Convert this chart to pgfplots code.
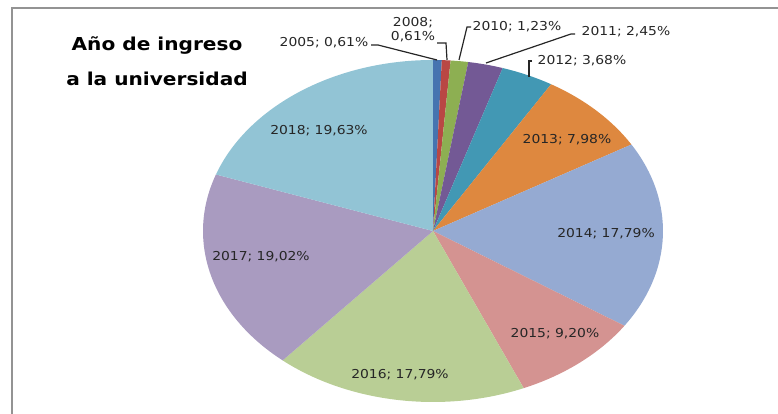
\documentclass[border=0pt]{standalone}
\usepackage{fontspec}
\setmainfont[FakeStretch=1.13]{DejaVu Sans}
\usepackage{pgfplots}
\usepackage{pgfplotstable}
\pgfplotsset{compat=1.18}

\definecolor{c0}{HTML}{4674B0}
\definecolor{c1}{HTML}{B94744}
\definecolor{c2}{HTML}{8DAF52}
\definecolor{c3}{HTML}{735995}
\definecolor{c4}{HTML}{4298B4}
\definecolor{c5}{HTML}{DE883F}
\definecolor{c6}{HTML}{95AAD2}
\definecolor{c7}{HTML}{D49391}
\definecolor{c8}{HTML}{B9CE95}
\definecolor{c9}{HTML}{A99BC0}
\definecolor{c10}{HTML}{92C4D5}
\definecolor{txt}{HTML}{262626}

\pgfplotstableread{
year pct
2005 0.61
2008 0.61
2010 1.23
2011 2.45
2012 3.68
2013 7.98
2014 17.79
2015 9.20
2016 17.79
2017 19.02
2018 19.63
}\piedata

\newcommand{\lbl}{\fontsize{12.3}{14}\selectfont\color{txt}}

\begin{document}
\begin{tikzpicture}
% cumulative angles (clockwise from 12 o'clock)
\xdef\cum{90}
\foreach \i in {0,...,10}{%
  \pgfplotstablegetelem{\i}{pct}\of\piedata
  \pgfmathsetmacro{\ea}{\cum-3.6*\pgfplotsretval}%
  \expandafter\xdef\csname sa\i\endcsname{\cum}%
  \expandafter\xdef\csname ea\i\endcsname{\ea}%
  \xdef\cum{\ea}%
}
\begin{axis}[
  scale only axis,
  width=778pt, height=414pt,
  xmin=0, xmax=778, ymin=0, ymax=414,
  enlargelimits=false,
  axis lines=none, ticks=none,
  clip=false,
]
\pgfplotsinvokeforeach{0,...,10}{
  \fill[c#1] (axis cs:433,183) --
    (axis cs:{433+230*cos(\csname sa#1\endcsname)},{183+171*sin(\csname sa#1\endcsname)})
    arc[start angle=\csname sa#1\endcsname, end angle=\csname ea#1\endcsname,
        x radius=230, y radius=171] -- cycle;
}
% frame
\draw[color=gray!85, line width=1.6pt] (axis cs:12,0) -- (axis cs:12,406) -- (axis cs:778,406);
% title
\node[anchor=base, font=\fontsize{17.8}{20}\selectfont\bfseries] at (axis cs:157,363) {Año de ingreso};
\node[anchor=base, font=\fontsize{17.8}{20}\selectfont\bfseries] at (axis cs:157,328) {a la universidad};
% inside labels
\node[font=\lbl] at (axis cs:319,283) {2018; 19,63\%};
\node[font=\lbl] at (axis cs:261,157) {2017; 19,02\%};
\node[font=\lbl] at (axis cs:400,39) {2016; 17,79\%};
\node[font=\lbl] at (axis cs:555,80) {2015; 9,20\%};
\node[font=\lbl] at (axis cs:606,180) {2014; 17,79\%};
\node[font=\lbl] at (axis cs:567,274) {2013; 7,98\%};
% outside labels with leaders
\draw[txt, line width=1.2pt] (axis cs:532,353) -- (axis cs:529,353) -- (axis cs:529,337);
\node[font=\lbl] at (axis cs:582,353) {2012; 3,68\%};
\draw[txt, line width=1.2pt] (axis cs:575,380) -- (axis cs:571,380) -- (axis cs:486,351);
\node[font=\lbl] at (axis cs:626,382) {2011; 2,45\%};
\draw[txt, line width=1.2pt] (axis cs:471,387) -- (axis cs:467,387) -- (axis cs:459,354);
\node[font=\lbl] at (axis cs:517,387) {2010; 1,23\%};
\draw[txt, line width=1.2pt] (axis cs:437,371) -- (axis cs:446,371) -- (axis cs:447,354);
\node[font=\lbl, align=center] at (axis cs:413,384) {2008;\\0,61\%};
\draw[txt, line width=1.2pt] (axis cs:371,369) -- (axis cs:378,369) -- (axis cs:437,354);
\node[font=\lbl] at (axis cs:324,371) {2005; 0,61\%};
\end{axis}
\pgfresetboundingbox
\useasboundingbox (current axis.south west) rectangle (current axis.north east);
\end{tikzpicture}
\end{document}
